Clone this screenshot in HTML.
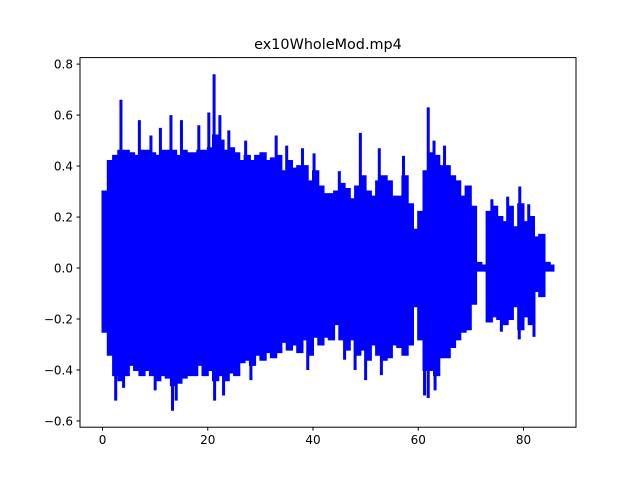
<!DOCTYPE html>
<html><head><meta charset="utf-8"><style>
body{margin:0;background:#fff;}
svg{display:block;font-family:"DejaVu Sans","Liberation Sans",sans-serif;}
</style></head><body>
<svg id="chart" width="640" height="480">
<rect x="0" y="0" width="640" height="480" fill="#fff"/>
<text x="328" y="49" text-anchor="middle" font-size="14.4">ex10WholeMod.mp4</text>
<g id="plot"></g>
<rect x="80" y="57.6" width="496" height="369.6" fill="none" stroke="#000" stroke-width="1"/>
<g id="xt"></g><g id="yt"></g>
</svg>
<script>
const times=[0,1,2,3,4,5,6,7,8,9,10,11,12,13,14,15,16,17,18,19,20,21,22,23,24,25,26,27,28,29,30,31,32,33,34,35,36,37,38,39,40,41,42,43,44,45,46,47,48,49,50,51,52,53,54,55,56,57,58,59,60,61,62,63,64,65,66,67,68,69,70,71,72,73,74,75,76,77,78,79,80,81,82,83,84,85,85.7];
const upper=[0.30,0.42,0.44,0.46,0.46,0.45,0.44,0.46,0.46,0.45,0.44,0.46,0.46,0.46,0.44,0.46,0.45,0.45,0.46,0.46,0.47,0.52,0.50,0.46,0.47,0.45,0.42,0.44,0.42,0.44,0.45,0.42,0.43,0.44,0.38,0.42,0.39,0.40,0.40,0.34,0.38,0.32,0.29,0.29,0.30,0.33,0.31,0.27,0.32,0.36,0.30,0.28,0.34,0.36,0.34,0.28,0.28,0.36,0.25,0.15,0.22,0.38,0.45,0.44,0.40,0.40,0.36,0.34,0.28,0.32,0.24,0.02,0.01,0.22,0.24,0.20,0.18,0.24,0.16,0.25,0.18,0.20,0.12,0.13,0.02,0.01,0.01];
const lower=[-0.25,-0.34,-0.42,-0.44,-0.42,-0.38,-0.40,-0.42,-0.40,-0.42,-0.44,-0.42,-0.43,-0.46,-0.45,-0.43,-0.42,-0.42,-0.38,-0.42,-0.40,-0.44,-0.42,-0.44,-0.41,-0.42,-0.37,-0.36,-0.38,-0.34,-0.36,-0.33,-0.35,-0.33,-0.29,-0.32,-0.30,-0.33,-0.28,-0.34,-0.27,-0.30,-0.27,-0.28,-0.22,-0.28,-0.32,-0.28,-0.34,-0.32,-0.36,-0.30,-0.34,-0.36,-0.35,-0.30,-0.31,-0.34,-0.30,-0.15,-0.28,-0.40,-0.40,-0.42,-0.35,-0.35,-0.31,-0.28,-0.25,-0.24,-0.14,-0.01,-0.01,-0.21,-0.19,-0.20,-0.22,-0.20,-0.15,-0.24,-0.19,-0.22,-0.09,-0.11,-0.01,-0.01,-0.01];
const spikeTimesUp=[3.5,7,9.2,11,13,15,18.3,20.2,21.2,22.3,24,27.2,33,35,38,40.2,45,49,52.6,57.2,61.9,63,65,74,77,79.3,81];
const spikeValsUp=[0.66,0.58,0.52,0.55,0.60,0.58,0.56,0.61,0.76,0.60,0.54,0.50,0.52,0.48,0.47,0.45,0.38,0.53,0.47,0.44,0.63,0.50,0.48,0.27,0.28,0.32,0.25];
const spikeTimesDn=[2.5,4,10,13.3,14,21.3,23,28.2,39,46,48,50,53,61.2,61.9,63.2,75.8,79.2,82];
const spikeValsDn=[-0.52,-0.47,-0.48,-0.56,-0.52,-0.52,-0.50,-0.44,-0.40,-0.36,-0.40,-0.44,-0.42,-0.50,-0.51,-0.48,-0.25,-0.28,-0.27];
const xTicks=[0,20,40,60,80];
const yTicks=[-0.6,-0.4,-0.2,0.0,0.2,0.4,0.6,0.8];
const xMin=-4.285,xMax=89.985,yMin=-0.6245,yMax=0.8255;
const L=80,R=576,T=57.6,B=427.2;
const sx=v=>L+(v-xMin)/(xMax-xMin)*(R-L);
const sy=v=>B-(v-yMin)/(yMax-yMin)*(B-T);
const NS="http://www.w3.org/2000/svg";
const plot=document.getElementById('plot');
let pts=[];
for(let i=0;i<times.length-1;i++){pts.push(sx(times[i]).toFixed(1)+','+sy(upper[i]).toFixed(1));pts.push(sx(times[i+1]).toFixed(1)+','+sy(upper[i]).toFixed(1));}
for(let i=times.length-2;i>=0;i--){pts.push(sx(times[i+1]).toFixed(1)+','+sy(lower[i]).toFixed(1));pts.push(sx(times[i]).toFixed(1)+','+sy(lower[i]).toFixed(1));}
const poly=document.createElementNS(NS,'polygon');
poly.setAttribute('points',pts.join(' '));
poly.setAttribute('fill','#0000ff');poly.setAttribute('stroke','#0000ff');poly.setAttribute('stroke-width','2');


plot.appendChild(poly);
function spike(t,v){
 const r=document.createElementNS(NS,'line');
 r.setAttribute('x1',sx(t));r.setAttribute('x2',sx(t));r.setAttribute('y1',sy(0));r.setAttribute('y2',sy(v));
 r.setAttribute('stroke','#0000ff');r.setAttribute('stroke-width','3');
 
 
 plot.appendChild(r);
}
spikeTimesUp.forEach((t,i)=>spike(t,spikeValsUp[i]));
spikeTimesDn.forEach((t,i)=>spike(t,spikeValsDn[i]));
const xt=document.getElementById('xt');
xTicks.forEach(v=>{
 const x=sx(v);
 const l=document.createElementNS(NS,'line');
 l.setAttribute('x1',x);l.setAttribute('x2',x);l.setAttribute('y1',B);l.setAttribute('y2',B+3.5);l.setAttribute('stroke','#000');
 
 
 xt.appendChild(l);
 const t=document.createElementNS(NS,'text');
 t.setAttribute('x',x);t.setAttribute('y',B+17);t.setAttribute('text-anchor','middle');t.setAttribute('font-size','12');
 t.textContent=v;
 
 
 xt.appendChild(t);
});
const yt=document.getElementById('yt');
yTicks.forEach(v=>{
 const y=sy(v);
 const l=document.createElementNS(NS,'line');
 l.setAttribute('x1',L-3.5);l.setAttribute('x2',L);l.setAttribute('y1',y);l.setAttribute('y2',y);l.setAttribute('stroke','#000');
 
 
 yt.appendChild(l);
 const t=document.createElementNS(NS,'text');
 t.setAttribute('x',L-7);t.setAttribute('y',y+4.3);t.setAttribute('text-anchor','end');t.setAttribute('font-size','12');
 t.textContent=(v<0?'\u2212':'')+Math.abs(v).toFixed(1);
 
 
 yt.appendChild(t);
});
</script>
</body></html>
